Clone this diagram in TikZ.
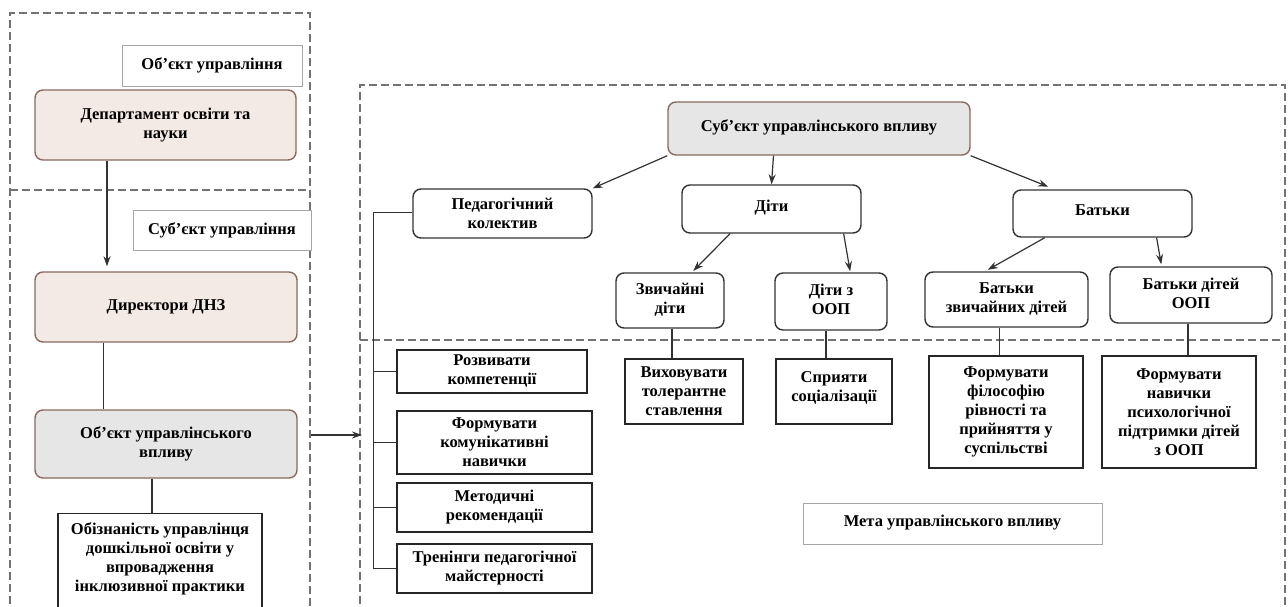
\documentclass[tikz,border=0pt]{standalone}
\usepackage{fontspec}
\setmainfont{Liberation Serif}
\usetikzlibrary{calc,arrows.meta}
\definecolor{pinkf}{HTML}{F3E9E5}
\definecolor{grayf}{HTML}{E6E6E6}
\definecolor{brd}{HTML}{8A6A5E}
\begin{document}
\begin{tikzpicture}[x=1pt,y=-1pt,
  font=\fontsize{16.5}{19}\selectfont\bfseries,
  dashbox/.style={draw=black!55, dash pattern=on 8pt off 4pt, line width=1.1pt},
  rbox/.style={draw=black!80, line width=1.4pt, rounded corners=8pt, fill=white, align=center, inner sep=1pt},
  pinkbox/.style={rbox, draw=brd, fill=pinkf},
  graybox/.style={rbox, draw=brd, fill=grayf},
  sbox/.style={draw=black!85, line width=1.4pt, fill=white, align=center, inner sep=1pt},
  lbl/.style={draw=black!35, line width=0.8pt, fill=white, align=center},
  conn/.style={draw=black!80, line width=1.2pt},
  arr/.style={conn, -{Stealth[length=10pt,width=7pt]}}
]
\useasboundingbox[fill=white] (0,0) rectangle (1288,606);

% dashed frames
\draw[dashbox] (10,640) -- (10,13) -- (310,13) -- (310,640);
\draw[dashbox] (10,190) -- (310,190);
\draw[dashbox] (360,640) -- (360,85) -- (1285,85) -- (1285,640);
\draw[dashbox] (360,340) -- (1285,340);

% left column
\node[lbl, minimum width=180, minimum height=41] (objupr) at (212,65.5) {Об’єкт управління};
\node[pinkbox, minimum width=261, minimum height=70] (dept) at (165.5,125) {Департамент освіти та\\науки};
\node[lbl, minimum width=178, minimum height=40] (subupr) at (222,230) {Суб’єкт управління};
\node[pinkbox, minimum width=262, minimum height=70] (dir) at (166,307) {Директори ДНЗ};
\node[graybox, minimum width=262, minimum height=68] (objvpl) at (166,444) {Об’єкт управлінського\\впливу};
\node[sbox, minimum width=204, anchor=north, inner ysep=9pt] (obiz) at (160,513) {Обізнаність управлінця\\дошкільної освіти у\\впровадження\\інклюзивної практики\rule[-30pt]{0pt}{30pt}};

\coordinate (a1) at ($(dept.south west)!0.277!(dept.south east)$);
\draw[arr, shorten >=5pt] (a1) -- (a1 |- dir.north);
\coordinate (a2) at ($(dir.south west)!0.263!(dir.south east)$);
\draw[conn] (a2) -- (a2 |- objvpl.north);
\coordinate (a3) at ($(objvpl.south west)!0.447!(objvpl.south east)$);
\draw[conn] (a3) -- (a3 |- obiz.north);

\coordinate (arrS) at (311,435);
\coordinate (arrE) at (362,435);
\draw[arr] (arrS) -- (arrE);

% right part, upper
\node[graybox, minimum width=302, minimum height=53] (subvpl) at (819,128.5) {Суб’єкт управлінського впливу\rule[-5pt]{0pt}{5pt}};
\node[rbox, minimum width=179, minimum height=49] (ped) at (502.5,213.5) {Педагогічний\\колектив};
\node[rbox, minimum width=179, minimum height=48] (diti) at (771.5,209) {Діти\rule[-6pt]{0pt}{6pt}};
\node[rbox, minimum width=179, minimum height=47] (batky) at (1102.5,213.5) {Батьки\rule[-6pt]{0pt}{6pt}};
\node[rbox, minimum width=108, minimum height=55] (zvych) at (670,300.5) {Звичайні\\діти\rule[-5pt]{0pt}{5pt}};
\node[rbox, minimum width=112, minimum height=57] (ditiOOP) at (831,301.5) {Діти з\\ООП\rule[-5pt]{0pt}{5pt}};
\node[rbox, minimum width=163, minimum height=55] (batZv) at (1006.5,299.5) {Батьки\\звичайних дітей};
\node[rbox, minimum width=162, minimum height=56] (batOOP) at (1191,295) {Батьки дітей\\ООП\rule[-4pt]{0pt}{4pt}};

\draw[arr] (subvpl.south west) -- (ped.north east);
\draw[arr] ($(subvpl.south west)!0.35!(subvpl.south east)$) -- (diti.north);
\draw[arr, shorten >=7pt] (subvpl.south east) -- ($(batky.north west)!0.235!(batky.north east)$);
\draw[arr, shorten >=2pt] ($(diti.south west)!0.27!(diti.south east)$) -- ($(zvych.north west)!0.70!(zvych.north east)$);
\draw[arr, shorten >=1pt] ($(diti.south west)!0.9!(diti.south east)$) -- ($(ditiOOP.north west)!0.67!(ditiOOP.north east)$);
\draw[arr, shorten >=3pt] ($(batky.south west)!0.18!(batky.south east)$) -- ($(batZv.north west)!0.37!(batZv.north east)$);
\draw[arr, shorten >=2pt] ($(batky.south west)!0.80!(batky.south east)$) -- ($(batOOP.north west)!0.32!(batOOP.north east)$);

% right part, lower
\node[sbox, minimum width=118, minimum height=65] (vyh) at (684,391.5) {Виховувати\\толерантне\\ставлення};
\node[sbox, minimum width=116, minimum height=65] (spry) at (834,391.5) {Сприяти\\соціалізації\rule[-10pt]{0pt}{10pt}};
\node[sbox, minimum width=154, minimum height=112] (filo) at (1006,412) {Формувати\\філософію\\рівності та\\прийняття у\\суспільстві};
\node[sbox, minimum width=154, minimum height=112] (navy) at (1179,412) {Формувати\\навички\\психологічної\\підтримки дітей\\з ООП};
\node[lbl, minimum width=299, minimum height=41] (meta) at (952.5,523.5) {Мета управлінського впливу\rule[-6pt]{0pt}{6pt}};

\coordinate (b1) at ($(zvych.south)+(2,0)$);
\draw[conn] (b1) -- (b1 |- vyh.north);
\coordinate (b2) at ($(ditiOOP.south)+(-5,0)$);
\draw[conn] (b2) -- (b2 |- spry.north);
\coordinate (b3) at ($(batZv.south)+(-7,0)$);
\draw[conn] (b3) -- (b3 |- filo.north);
\coordinate (b4) at ($(batOOP.south)+(-3,0)$);
\draw[conn] (b4) -- (b4 |- navy.north);

% pedagogical branch
\node[sbox, minimum width=190, minimum height=43] (rozv) at (492,371.5) {Розвивати\\компетенції};
\node[sbox, minimum width=195, minimum height=63] (form) at (494.5,442.5) {Формувати\\комунікативні\\навички};
\node[sbox, minimum width=195, minimum height=49] (meto) at (494.5,507.5) {Методичні\\рекомендації};
\node[sbox, minimum width=195, minimum height=49] (tren) at (494.5,568.5) {Тренінги педагогічної\\майстерності};

\coordinate (trk) at (373,212);
\draw[conn, line width=0.9pt] (ped.west |- trk) -- (trk) |- (tren.west);
\draw[conn, line width=0.9pt] (trk |- rozv.west) -- (rozv.west);
\draw[conn, line width=0.9pt] (trk |- form.west) -- (form.west);
\draw[conn, line width=0.9pt] (trk |- meto.west) -- (meto.west);
\end{tikzpicture}
\end{document}
